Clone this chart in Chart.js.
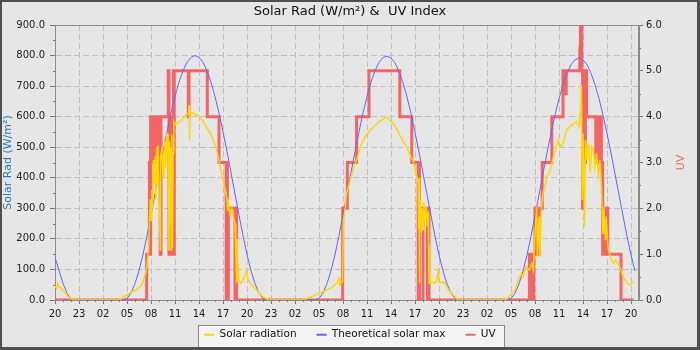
<!DOCTYPE html>
<html>
<head>
<meta charset="utf-8">
<title>Solar Rad &amp; UV Index</title>
<script src="https://cdn.jsdelivr.net/npm/chart.js@4.4.1/dist/chart.umd.min.js"></script>
<style>
html,body{margin:0;padding:0;background:#e6e6e6;}
#wrap{width:700px;height:350px;}
</style>
</head>
<body>
<div id="wrap"><canvas id="chart-area" width="700" height="350"></canvas></div>
<script>
// hours counted from 20:00 of the first day
var startHour = 20;

// solar radiation (W/m2): [hour, value]
var solarRad = [
	[0,45],[0.2,38],[0.35,55],[0.5,42],[0.75,40],[1.0,30],[1.3,22],[1.6,12],[2.0,5],[2.5,0],
	[8.1,0],[8.6,10],[9.1,18],[9.6,27],[10.0,30],[10.4,38],[10.7,45],[11.0,60],[11.3,85],[11.5,109],
	[11.7,164],[11.8,250],[11.9,330],[12.0,260],[12.1,360],[12.2,300],[12.3,458],[12.4,380],[12.5,470],[12.6,330],
	[12.7,500],[12.8,380],[12.9,507],[13.0,320],[13.1,273],[13.15,164],[13.2,470],[13.35,490],[13.5,400],[13.6,470],
	[13.75,520],[13.85,430],[13.95,545],[14.05,480],[14.15,545],[14.25,164],[14.3,520],[14.4,250],[14.45,500],[14.55,164],
	[14.6,540],[14.7,170],[14.75,480],[14.85,584],[15.0,575],[15.3,580],[15.6,584],[16.0,595],[16.4,605],[16.7,612],
	[16.78,638],[16.8,524],[16.85,612],[17.3,611],[17.7,605],[18.1,600],[18.5,585],[19.0,562],[19.4,545],[19.8,524],
	[20.1,500],[20.4,469],[20.7,430],[21.0,393],[21.3,360],[21.5,330],[21.6,290],[21.7,316],[21.9,280],[22.1,300],
	[22.3,270],[22.5,251],[22.6,150],[22.7,55],[22.75,200],[22.8,60],[22.9,120],[23.0,60],[23.3,55],[23.6,70],
	[23.96,98],[24.1,70],[24.4,55],[24.8,45],[25.2,33],[25.6,20],[26.0,11],[26.7,0],
	[31.0,0],[31.5,5],[32.0,10],[32.5,16],[33.0,22],[33.5,27],[34.0,33],[34.4,38],[34.8,45],[35.2,55],
	[35.5,71],[35.6,50],[35.7,55],[35.95,60],[36.04,262],[36.25,295],[36.46,349],[36.9,393],[37.3,430],[37.7,458],
	[38.1,495],[38.5,524],[38.95,540],[39.4,556],[39.8,566],[40.2,576],[40.7,587],[41.25,595],[41.5,597],[41.8,590],
	[42.3,578],[42.7,560],[43.1,540],[43.5,520],[43.95,502],[44.4,475],[44.8,453],[45.1,420],[45.4,382],[45.45,230],
	[45.5,400],[45.55,55],[45.6,250],[45.7,327],[45.8,220],[45.9,300],[46.0,230],[46.1,320],[46.25,260],[46.4,305],
	[46.55,240],[46.67,290],[46.75,55],[46.8,180],[46.9,55],[47.1,60],[47.4,55],[47.7,62],[47.9,98],[48.0,60],
	[48.3,58],[48.75,55],[49.2,33],[49.8,16],[50.4,0],
	[56.2,0],[56.5,5],[56.9,16],[57.5,33],[57.9,65],[58.3,87],[58.5,76],[58.9,109],[59.3,98],[59.6,120],
	[59.8,98],[60.0,218],[60.2,305],[60.3,142],[60.5,273],[60.6,142],[60.8,305],[61.0,349],[61.25,371],[61.5,404],
	[61.9,425],[62.3,469],[62.7,502],[62.9,524],[63.1,502],[63.5,513],[63.95,556],[64.6,573],[65.2,584],[65.5,567],
	[65.7,622],[65.8,704],[65.9,327],[66.0,545],[66.2,240],[66.3,524],[66.5,458],[66.7,513],[66.9,415],[67.1,502],
	[67.3,491],[67.5,436],[67.7,480],[67.9,415],[68.1,458],[68.3,371],[68.5,218],[68.6,305],[68.8,196],[68.9,273],
	[69.1,175],[69.3,153],[69.5,136],[69.8,120],[70.1,131],[70.6,109],[71.0,76],[71.5,55],[71.9,49],[72.3,60]
];

// theoretical solar max (W/m2), one value every half hour from hour 0
var theoStep = 0.5;
var theoMax = [
	140,96,54,22,5,0,0,0,0,0,0,0,
	0,0,0,0,0,0,5,22,54,96,149,211,
	278,347,417,486,551,612,666,713,750,778,794,800,
	794,778,750,713,666,612,551,486,417,347,278,211,
	149,96,54,22,5,0,0,0,0,0,0,0,
	0,0,0,0,0,0,5,22,54,96,149,211,
	278,347,417,486,551,612,666,713,750,778,794,798,
	792,776,748,711,664,610,549,484,415,345,276,209,
	147,95,53,22,5,0,0,0,0,0,0,0,
	0,0,0,0,0,0,5,22,53,95,147,209,
	275,344,413,481,545,606,659,705,742,770,786,792,
	786,770,742,705,659,606,545,481,413,344,275,209,
	147,95
];

// UV index, value holds from the given hour: [hour, uv]
var uvIndex = [
	[0,0],[11.46,1],[11.8,3],[11.9,1],[11.95,4],[12.1,3],[12.2,4],[12.35,3],[12.45,4],[12.6,3],
	[12.7,4],[12.85,3],[12.9,4],[13.15,1],[13.25,4],[14.15,5],[14.25,1],[14.5,4],[14.55,1],[14.8,5],
	[14.85,1],[14.9,5],[16.67,4],[16.75,5],[19.04,4],[20.5,3],[21.4,0],[21.5,3],[21.55,0],[21.67,2],
	[22.5,0],[22.6,2],[22.7,0],
	[35.96,2],[36.54,3],[37.7,4],[39.25,5],[43.1,4],[44.6,3],[45.4,0],[45.5,3],[45.55,0],[46.0,2],
	[46.55,0],[46.65,2],[46.75,0],
	[59.3,1],[59.4,0],[59.5,1],[59.6,0],[59.7,1],[59.8,0],[59.85,1],[60.0,2],[60.1,1],[60.2,2],
	[60.3,1],[60.4,2],[60.5,1],[60.55,2],[60.9,3],[62.1,4],[63.5,5],[63.6,4.5],[63.7,5],[63.8,4.5],
	[63.9,5],[65.6,5.5],[65.68,6],[65.85,5],[65.95,2],[66.0,5],[66.1,4],[66.15,5],[66.25,3],[66.3,5],
	[66.45,4],[67.6,3],[67.7,4],[67.8,3],[67.9,4],[68.0,3],[68.1,4],[68.3,3],[68.46,1],[68.5,2],
	[68.6,1],[68.7,2],[68.85,1],[68.95,2],[69.1,1],[70.75,0],[72.3,0]
];

var xMax = 73;
var colorSolar = '#ffd700';
var colorTheo = '#6464ff';
var colorUV = '#f56464';
var uvTitle = 'UV';

Chart.defaults.font.family = "'DejaVu Sans', sans-serif";

function toPoints(arr){
	var out = [];
	for (var i = 0; i < arr.length; i++) {
		out.push({x: arr[i][0], y: arr[i][1]});
	}
	return out;
}

function theoPoints(){
	var out = [];
	for (var i = 0; i < theoMax.length; i++) {
		out.push({x: i*theoStep, y: theoMax[i]});
	}
	return out;
}

function hourLabel(v){
	var h = (startHour + v) % 24;
	return (h < 10 ? '0' : '') + h;
}

// background, legend box, plot frame, minor ticks, right title, outer border
var decoPlugin = {
	id: 'deco',
	beforeDraw: function(chart){
		var c = chart.ctx;
		// x labels sit below the (shrunk) x axis box, don't clip them
		chart.scales.x._computeLabelArea = function(){ return undefined; };
		c.save();
		c.fillStyle = '#e6e6e6';
		c.fillRect(0, 0, chart.width, chart.height);
		var hb = chart.legend.legendHitBoxes;
		if (hb && hb.length) {
			var first = hb[0], last = hb[hb.length-1];
			var bx = Math.round(first.left - 6);
			var bw = Math.round(last.left + last.width + 9) - bx;
			var by = Math.round(first.top + first.height/2 - 10);
			c.fillStyle = '#f4f4f4';
			c.fillRect(bx, by, bw, chart.height - by);
			c.strokeStyle = '#8a8a8a';
			c.lineWidth = 1;
			c.strokeRect(bx + 0.5, by + 0.5, bw - 1, chart.height - by);
		}
		c.restore();
	},
	beforeDatasetsDraw: function(chart){
		var c = chart.ctx, a = chart.chartArea;
		var x = chart.scales.x, y = chart.scales.y, y1 = chart.scales.y1;
		c.save();
		c.strokeStyle = '#8c8c8c';
		c.lineWidth = 1;
		c.strokeRect(Math.round(a.left) + 0.5, Math.round(a.top) + 0.5, Math.round(a.right - a.left) - 1, Math.round(a.bottom - a.top));
		c.strokeStyle = '#777';
		c.beginPath();
		var h, px, py, v;
		for (h = 1; h < xMax; h++) {
			if (h % 3 == 0) continue;
			px = Math.round(x.getPixelForValue(h)) + 0.5;
			c.moveTo(px, a.bottom);
			c.lineTo(px, a.bottom + 2);
		}
		for (v = 50; v < 900; v += 100) {
			py = Math.round(y.getPixelForValue(v)) + 0.5;
			c.moveTo(a.left - 2, py);
			c.lineTo(a.left, py);
		}
		for (v = 0.5; v < 6; v += 1) {
			py = Math.round(y1.getPixelForValue(v)) + 0.5;
			c.moveTo(a.right, py);
			c.lineTo(a.right + 2, py);
		}
		c.stroke();
		// right axis title, reading bottom to top like the left one
		c.translate(681, (a.top + a.bottom)/2);
		c.rotate(-Math.PI/2);
		c.fillStyle = colorUV;
		c.font = "11px 'DejaVu Sans', sans-serif";
		c.textAlign = 'center';
		c.textBaseline = 'middle';
		c.fillText(uvTitle, 0, 0);
		c.restore();
	},
	afterDraw: function(chart){
		var c = chart.ctx;
		c.save();
		c.fillStyle = '#4f4f4f';
		c.fillRect(0, 0, chart.width, 2);
		c.fillRect(0, 0, 2, chart.height);
		c.fillRect(0, chart.height - 3, chart.width, 3);
		c.fillRect(chart.width - 3, 0, 3, chart.height);
		c.restore();
	}
};

var tickFont = {size: 10};
var gridColor = '#c0c0c0';
var gridDash = [6, 3];

var config = {
	type: 'line',
	data: {
		datasets: [{
			label: 'Solar radiation',
			data: toPoints(solarRad),
			borderColor: colorSolar,
			backgroundColor: colorSolar,
			borderWidth: 1.5,
			pointRadius: 0,
			yAxisID: 'y'
		},{
			label: 'Theoretical solar max',
			data: theoPoints(),
			borderColor: colorTheo,
			backgroundColor: colorTheo,
			borderWidth: 1,
			pointRadius: 0,
			yAxisID: 'y'
		},{
			label: 'UV',
			data: toPoints(uvIndex),
			borderColor: colorUV,
			backgroundColor: colorUV,
			borderWidth: 3,
			stepped: true,
			pointRadius: 0,
			yAxisID: 'y1'
		}]
	},
	options: {
		responsive: false,
		animation: false,
		devicePixelRatio: 1,
		layout: {padding: 0},
		plugins: {
			title: {
				display: true,
				text: 'Solar Rad (W/m\u00b2) &  UV Index',
				color: '#111',
				font: {size: 13, weight: 'normal'},
				padding: {top: 4, bottom: 5.4}
			},
			legend: {
				position: 'bottom',
				labels: {
					usePointStyle: true,
					pointStyle: 'line',
					pointStyleWidth: 10,
					padding: 20,
					color: '#111',
					font: {size: 10.5},
					generateLabels: function(chart){
						var items = Chart.defaults.plugins.legend.labels.generateLabels(chart);
						for (var i = 0; i < items.length; i++) {
							items[i].lineWidth = 2;
						}
						return items;
					}
				}
			},
			tooltip: {enabled: false}
		},
		scales: {
			x: {
				type: 'linear',
				min: 0,
				max: xMax,
				afterFit: function(s){ s.height = 9.5; },
				ticks: {
					stepSize: 3,
					includeBounds: false,
					autoSkip: false,
					maxRotation: 0,
					padding: 4,
					color: '#222',
					font: tickFont,
					callback: function(v){ return hourLabel(v); }
				},
				grid: {color: gridColor, tickColor: '#777', tickLength: 4},
				border: {color: '#8c8c8c', dash: gridDash}
			},
			y: {
				position: 'left',
				min: 0,
				max: 900,
				afterFit: function(s){ s.width = 55; },
				ticks: {
					stepSize: 100,
					includeBounds: false,
					padding: 5,
					color: '#222',
					font: tickFont,
					callback: function(v){ return v.toFixed(1); }
				},
				grid: {color: gridColor, tickColor: '#777', tickLength: 5},
				border: {color: '#8c8c8c', dash: gridDash},
				title: {
					display: true,
					text: 'Solar Rad (W/m\u00b2)',
					color: '#2b7bb9',
					font: {size: 11},
					padding: {top: 2, bottom: 0}
				}
			},
			y1: {
				position: 'right',
				min: 0,
				max: 6,
				afterFit: function(s){ s.width = 61; },
				ticks: {
					stepSize: 1,
					includeBounds: false,
					padding: 3,
					color: '#222',
					font: tickFont,
					callback: function(v){ return v.toFixed(1); }
				},
				grid: {drawOnChartArea: false, tickColor: '#777', tickLength: 4},
				border: {color: '#8c8c8c'}
			}
		}
	},
	plugins: [decoPlugin]
};

var ctx = document.getElementById('chart-area').getContext('2d');
window.solarChart = new Chart(ctx, config);
</script>
</body>
</html>
